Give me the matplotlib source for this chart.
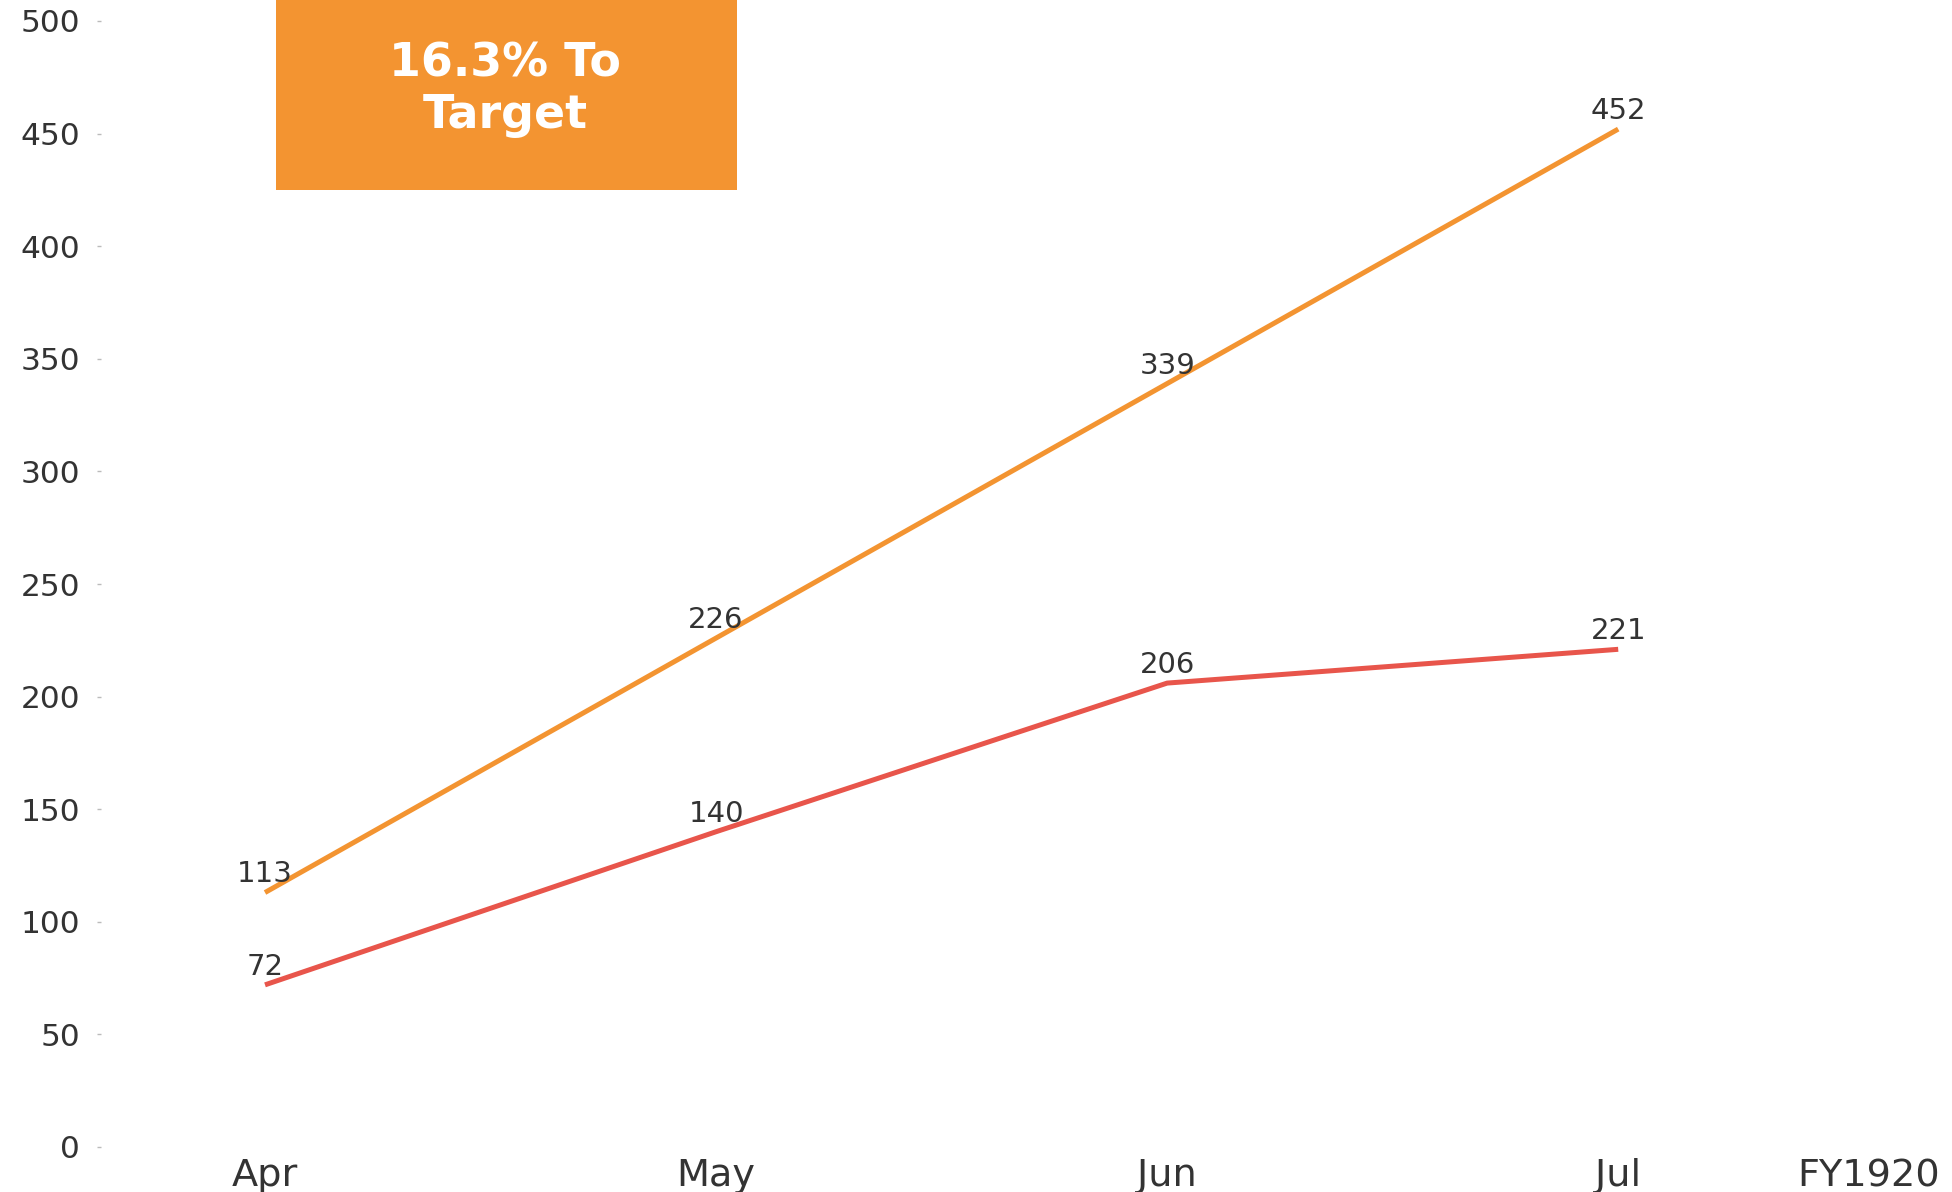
import matplotlib
matplotlib.use("Agg")
import matplotlib.pyplot as plt
from matplotlib.patches import Rectangle

months = ["Apr", "May", "Jun", "Jul"]
extra_label = "FY1920"
target_series = [113, 226, 339, 452]
actual_series = [72, 140, 206, 221]
y_ticks = [0, 50, 100, 150, 200, 250, 300, 350, 400, 450, 500]
badge_text = "16.3% To\nTarget"

ORANGE = "#F39431"
RED = "#E8554B"
TXT = "#333333"

plt.rcParams['font.family'] = ['DejaVu Sans']

fig = plt.figure(figsize=(19.52, 11.92), dpi=100)
ax = fig.add_axes([101/1952, (1192-1147)/1192, 1 - 101/1952, (1147-21)/1192])

x = list(range(len(months)))
ax.plot(x, target_series, color=ORANGE, lw=3.6, solid_capstyle='butt')
ax.plot(x, actual_series, color=RED, lw=3.6, solid_capstyle='butt')

for xi, v in zip(x, target_series):
    ax.annotate(str(v), (xi, v), xytext=(0, 13), textcoords='offset points',
                ha='center', va='center', fontsize=21, color=TXT)
for xi, v in zip(x, actual_series):
    ax.annotate(str(v), (xi, v), xytext=(0, 13), textcoords='offset points',
                ha='center', va='center', fontsize=21, color=TXT)

ax.set_ylim(0, 500)
ax.set_xlim(-0.3636, 3.74)
ax.set_yticks(y_ticks)
ax.set_xticks(x + [3.554])
ax.set_xticklabels(months + [extra_label])
ax.tick_params(axis='y', length=3, width=1, color='#BBBBBB', pad=12, labelsize=22.5, labelcolor=TXT)
ax.tick_params(axis='x', length=0, pad=8, labelsize=27.5, labelcolor=TXT)
for s in ax.spines.values():
    s.set_visible(False)

fig.patches.append(Rectangle((276/1952, 1 - 190/1192), 461/1952, 190/1192,
                             transform=fig.transFigure, facecolor=ORANGE,
                             edgecolor='none', zorder=5))
fig.text(505/1952, 1 - 90/1192, badge_text, ha='center', va='center',
         fontsize=33, fontweight='bold', color='white', linespacing=1.2,
         zorder=6)

fig.savefig("out.png", dpi=100)
